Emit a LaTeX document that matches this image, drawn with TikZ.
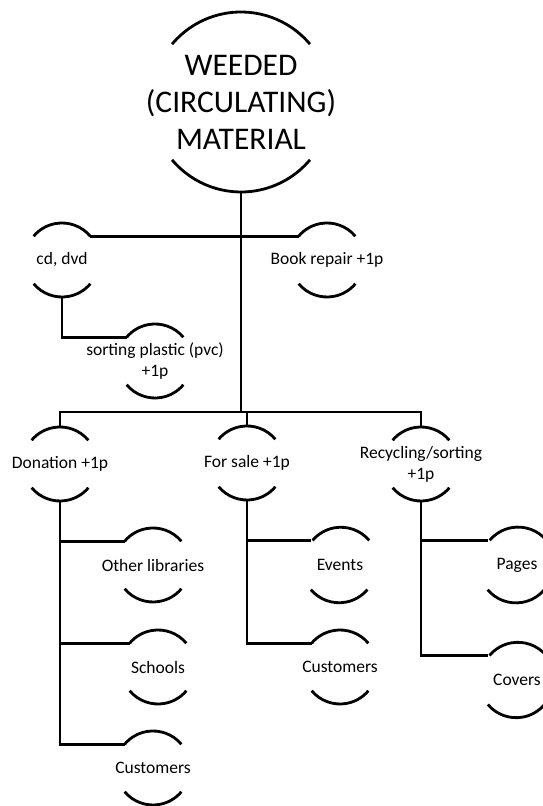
\documentclass[tikz,border=0pt]{standalone}
\usepackage{fontspec}
\setmainfont{Carlito}
\tikzset{
  bubble/.style={circle, minimum size=74pt, inner sep=-40pt, outer sep=0pt,
    align=center, font=\fontsize{17.5}{21}\selectfont},
  bigbubble/.style={bubble, minimum size=180pt, font=\fontsize{31.5}{37}\selectfont},
  rim/.style={line width=2.8pt},
  link/.style={line width=2.8pt, line join=miter},
}

\begin{document}
\begin{tikzpicture}[x=1pt, y=1pt]
  \useasboundingbox (0,0) rectangle (543,806);
  % top of the tree
  \node[bigbubble] (root) at (241,704) {WEEDED\\(CIRCULATING)\\MATERIAL};
  \draw[rim] (root.40) arc[start angle=40, end angle=140, radius=90];
  \draw[rim] (root.220) arc[start angle=220, end angle=320, radius=90];
  % first branch
  \node[bubble] (cd) at (62,546) {cd, dvd};
  \node[bubble] (book) at (327,546) {Book repair +1p};
  \node[bubble] (plastic) at (155,445) {sorting plastic (pvc)\\+1p};
  % second branch
  \node[bubble] (donation) at (60,342) {Donation +1p};
  \node[bubble] (forsale) at (247,343) {For sale +1p};
  \node[bubble] (recycling) at (421,342) {Recycling/sorting\\+1p};
  % leaves
  \node[bubble] (otherlib) at (153,241) {Other libraries};
  \node[bubble] (schools) at (158,139) {Schools};
  \node[bubble] (custdon) at (153,38) {Customers};
  \node[bubble] (events) at (340,241) {Events};
  \node[bubble] (custsale) at (340,139) {Customers};
  \node[bubble] (pages) at (517,241) {Pages};
  \node[bubble] (covers) at (517,126) {Covers};
  \foreach \n in {cd,book,plastic,donation,forsale,recycling,otherlib,schools,custdon,events,custsale,pages,covers}{
    \draw[rim] (\n.40) arc[start angle=40, end angle=140, radius=37];
    \draw[rim] (\n.220) arc[start angle=220, end angle=320, radius=37];
  }
  % connectors
  \coordinate (hub) at (241,394);
  \draw[link] (root.south) -- (hub);
  \draw[link] (cd.40) -- (book.140);
  \draw[link] (cd.south) |- (plastic.140);
  \draw[link] (donation.north) |- (hub) -| (recycling.north);
  \draw[link] (forsale.north) |- (hub);
  \foreach \c in {otherlib,schools,custdon} \draw[link] (donation.south) |- (\c.140);
  \foreach \c in {events,custsale} \draw[link] (forsale.south) |- (\c.140);
  \foreach \c in {pages,covers} \draw[link] (recycling.south) |- (\c.140);
\end{tikzpicture}
\end{document}
